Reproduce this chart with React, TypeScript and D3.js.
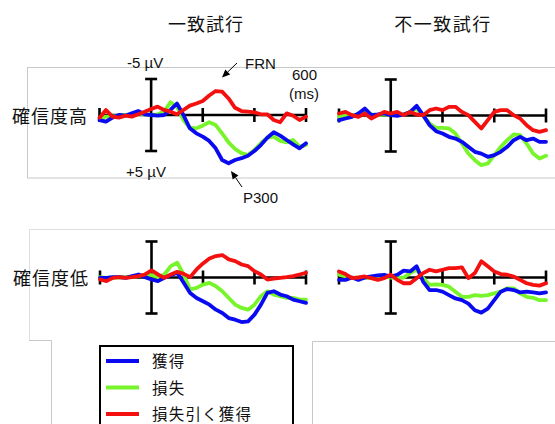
import React from 'react';
import * as d3 from 'd3';

// time points (ms) of the ERP waveforms
const times = [
  -200, -175, -150, -125, -100, -75, -50, -25, 0, 25, 50, 75, 100, 125, 150, 175,
  200, 225, 250, 275, 300, 325, 350, 375, 400, 425, 450, 475, 500, 525, 550, 575, 600,
];
const xTicks = [-200, 200, 400, 600];

const conditions = ['一致試行', '不一致試行'];
const confidence = ['確信度高', '確信度低'];
const seriesNames = ['獲得', '損失', '損失引く獲得'];

// amplitudes in µV (positive plotted downward)
const congHighGain = [0.7, 0.93, 0.37, 0, 0.1, -0.23, -0.55, -0.1, 0, 0.1, 0, -0.7, -1.6, 0, 1.85, 2.55, 3.0, 3.6, 4.63, 6.25, 6.7, 6.25, 6.0, 5.65, 5.0, 4.17, 3.15, 2.4, 2.87, 3.47, 4.07, 4.63, 3.93];
const congHighLoss = [0.46, 0.23, 0.23, 0.1, 0, -0.1, -0.23, -0.1, 0, -0.1, -0.46, -1.76, -1.16, 0.7, 1.76, 1.85, 1.48, 1.0, 1.4, 2.55, 3.8, 4.7, 5.3, 5.55, 4.86, 3.93, 3.15, 3.0, 3.6, 3.8, 3.47, 4.4, 4.17];
const congHighDiff = [0.37, -0.7, 0.23, 0.37, 0.1, 0.23, -0.1, -0.46, -0.83, -1.16, -0.7, -0.46, -0.1, -0.7, -1.3, -1.6, -1.95, -2.7, -3.33, -3.24, -2.3, -1.0, -0.55, -0.46, -0.37, -0.1, -0.1, 0.7, 1.0, -0.23, 0.1, 0.7, 0.23];

const incongHighGain = [0.65, 0.42, 0.19, -0.28, -0.97, -0.05, -0.14, -0.28, -0.05, 0.05, -0.14, -0.5, -1.34, -0.05, 1.34, 2.18, 2.5, 2.96, 3.2, 3.66, 4.35, 5.05, 5.3, 5.74, 5.5, 5.05, 4.35, 3.43, 2.96, 3.43, 3.2, 3.66, 3.66];
const incongHighLoss = [0.19, -0.05, -0.05, -0.05, -0.5, -0.14, -0.05, -0.14, -0.14, -0.05, -0.14, -0.5, -0.97, 0.05, 1.11, 1.71, 1.71, 1.8, 2.5, 3.9, 5.28, 6.2, 6.9, 6.67, 5.5, 4.35, 3.43, 2.64, 2.73, 3.9, 5.28, 5.97, 5.6];
const incongHighDiff = [-0.28, -0.5, -0.05, 0.19, -0.28, 0.42, -0.05, -0.5, -0.28, -0.5, -0.05, -0.5, -0.14, -0.05, -0.74, -0.97, -0.74, -1.2, -1.2, -0.5, -0.05, 0.88, 1.8, 0.65, -0.5, -0.74, -0.74, -0.05, 0.42, 1.34, 2.04, 2.27, 2.04];

const congLowGain = [0.05, 0.05, -0.05, -0.05, 0.05, -0.19, -0.42, -0.05, 0.28, 0.51, 0.05, -0.33, -0.65, 0.74, 2.14, 2.84, 3.3, 3.77, 4.47, 4.93, 5.63, 5.86, 6.19, 6.09, 5.16, 3.77, 2.14, 1.91, 2.37, 2.6, 3.07, 3.3, 3.53];
const congLowLoss = [-0.05, 0.05, 0, 0, -0.05, -0.1, -0.2, -0.42, -0.33, -0.05, -0.42, -1.58, -2.05, -0.42, 1.67, 1.44, 0.98, 0.74, 1.21, 1.91, 2.84, 3.77, 4.23, 4.47, 3.77, 2.6, 1.91, 2.37, 2.6, 2.84, 2.84, 3.07, 3.07];
const congLowDiff = [0.28, 0.51, 0.05, -0.05, 0.05, -0.05, -0.19, -0.42, -0.98, -0.42, 0.05, -0.42, -0.79, -0.51, -0.05, -1.12, -1.95, -2.65, -2.98, -3.12, -2.51, -2.28, -1.81, -1.58, -0.88, -0.42, 0.28, 0.14, 0.05, -0.05, -0.19, -0.42, -0.65];

const incongLowGain = [0.33, 0.33, 0, 0.33, 0, -0.14, -0.28, -0.38, -0.14, -0.38, -0.94, -0.85, -1.55, 0.56, 1.74, 1.74, 1.97, 2.44, 2.91, 3.15, 3.62, 4.55, 4.88, 4.32, 3.15, 1.97, 1.6, 1.74, 2.07, 1.97, 2.07, 2.21, 2.07];
const incongLowLoss = [-0.38, -0.14, 0.09, 0, 0, 0.09, 0, -0.14, 0, 0.09, 0, -0.61, -1.08, 0.09, 1.03, 0.94, 1.03, 1.27, 1.97, 2.68, 2.68, 2.44, 2.54, 2.44, 2.21, 1.97, 1.5, 1.5, 2.21, 2.68, 2.82, 3.15, 3.15];
const incongLowDiff = [-0.85, -0.47, 0.09, 0, -0.14, 0.09, 0.33, 0.09, -0.38, 0.33, 0.8, 0.8, 0.09, -0.61, -1.08, -0.85, -1.08, -1.31, -1.31, -1.41, 0.09, -0.61, -2.25, -1.55, -0.85, -0.47, -0.38, -0.14, 0.33, 0.8, 1.03, 1.13, 0.8];

const colors = ['#0a0af0', '#78f52a', '#f51010'];
const jp = "'Noto Sans CJK JP', 'Noto Sans', sans-serif";
const latin = "'Liberation Sans', Arial, sans-serif";

const width = 555;
const height = 424;

const panels = [
  { x0: 99.5, x1: 306, y0: 115, series: [congHighGain, congHighLoss, congHighDiff] },
  { x0: 339, x1: 546, y0: 115.5, series: [incongHighGain, incongHighLoss, incongHighDiff] },
  { x0: 100, x1: 306, y0: 277.5, series: [congLowGain, congLowLoss, congLowDiff] },
  { x0: 339, x1: 546, y0: 277.5, series: [incongLowGain, incongLowLoss, incongLowDiff] },
];

const Arrow = ({ x1, y1, x2, y2 }) => {
  const a = Math.atan2(y2 - y1, x2 - x1);
  const L = 8, W = 3.5;
  const bx = x2 - L * Math.cos(a), by = y2 - L * Math.sin(a);
  const px = -Math.sin(a) * W, py = Math.cos(a) * W;
  return (
    <g>
      <line x1={x1} y1={y1} x2={bx} y2={by} stroke="#000" strokeWidth={1} />
      <polygon points={`${x2},${y2} ${bx + px},${by + py} ${bx - px},${by - py}`} fill="#000" />
    </g>
  );
};

const Panel = ({ p }) => {
  const x = d3.scaleLinear().domain([-200, 600]).range([p.x0, p.x1]);
  const y = d3.scaleLinear().domain([-5, 5]).range([p.y0 - 36, p.y0 + 36]);
  const line = d3.line<number>().x((d, i) => x(times[i])).y(d => y(d));
  return (
    <g>
      <g stroke="#000" strokeWidth={2.6} fill="none">
        <line x1={x(-200)} x2={x(600)} y1={y(0)} y2={y(0)} />
        {xTicks.map(t => (
          <line key={t} x1={x(t)} x2={x(t)} y1={y(0) - 7} y2={y(0) + 7} />
        ))}
        <line x1={x(0)} x2={x(0)} y1={y(-5)} y2={y(5)} />
        <line x1={x(0) - 6} x2={x(0) + 6} y1={y(-5)} y2={y(-5)} />
        <line x1={x(0) - 6} x2={x(0) + 6} y1={y(5)} y2={y(5)} />
      </g>
      {[1, 0, 2].map(k => (
        <path key={k} d={line(p.series[k]) || ''} fill="none" stroke={colors[k]}
          strokeWidth={3.8} strokeLinejoin="round" strokeLinecap="round" />
      ))}
    </g>
  );
};

export default function App() {
  return (
    <svg width={width} height={height} style={{ position: 'absolute', left: 0, top: 0, background: '#fff' }}>
      {/* background frames */}
      <g fill="none" stroke="#c8c8c8" strokeWidth={1}>
        <rect x={27.5} y={67.5} width={540} height={110.5} />
        <path d="M29.5,340 V229.5 H560" stroke="#dedede" />
        <path d="M29,340.5 H51.5 V430" />
        <path d="M560,341.5 H312.5 V430" />
      </g>

      {/* titles */}
      <g fontFamily={jp} fontSize={18} fill="#111" textAnchor="middle">
        <text x={206} y={31} letterSpacing={1}>{conditions[0]}</text>
        <text x={443} y={31} letterSpacing={1.5}>{conditions[1]}</text>
      </g>
      <g fontFamily={jp} fontSize={18} fill="#111">
        <text x={12} y={123} letterSpacing={1}>{confidence[0]}</text>
        <text x={13} y={285} letterSpacing={1}>{confidence[1]}</text>
      </g>

      {panels.map((p, i) => <Panel key={i} p={p} />)}

      {/* annotations */}
      <g fontFamily={latin} fontSize={15} fill="#111">
        <text x={127} y={68}>-5 µV</text>
        <text x={126} y={177}>+5 µV</text>
        <text x={245} y={69}>FRN</text>
        <text x={292} y={80}>600</text>
        <text x={289} y={99}>(ms)</text>
        <text x={243} y={203}>P300</text>
      </g>
      <Arrow x1={237} y1={63} x2={222} y2={77.5} />
      <Arrow x1={242} y1={187} x2={231} y2={171} />

      {/* legend */}
      <rect x={100} y={346} width={193} height={90} fill="#fff" stroke="#000" strokeWidth={2} />
      {seriesNames.map((name, i) => (
        <g key={name} transform={`translate(0, ${361 + i * 26.5})`}>
          <line x1={106} x2={139} y1={0} y2={0} stroke={colors[i]} strokeWidth={4} />
          <text x={152} y={6} fontFamily={jp} fontSize={15.5} letterSpacing={1.2} fill="#111">{name}</text>
        </g>
      ))}
    </svg>
  );
}
